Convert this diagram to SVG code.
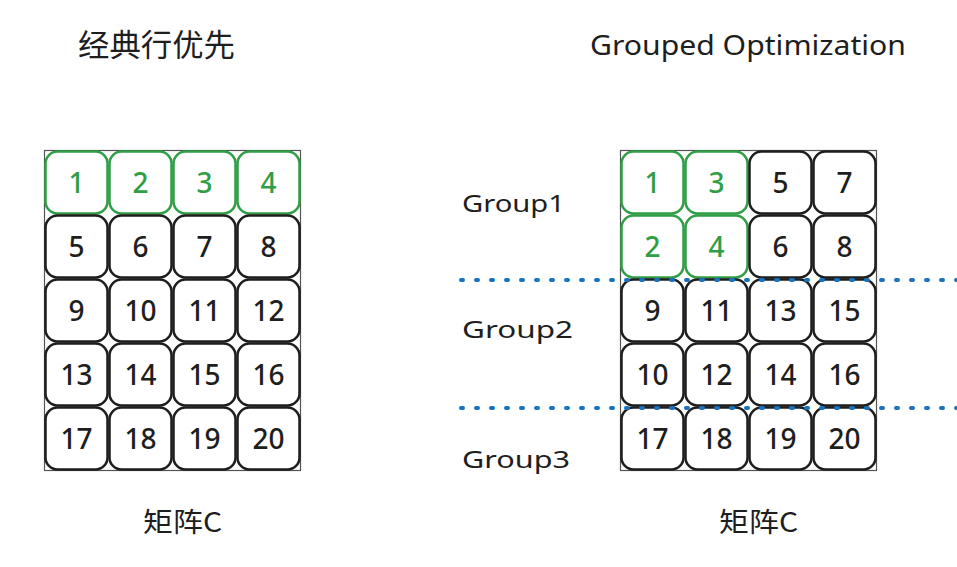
<svg xmlns="http://www.w3.org/2000/svg" width="957" height="567" viewBox="0 0 957 567">
<style>
.frame{fill:none;stroke:#555;stroke-width:1.2}
.cell{fill:#fff;stroke:#1e1e1e;stroke-width:2.5}
.cell.g{stroke:#2f9e44}
.num{font-family:"Noto Sans","DejaVu Sans",sans-serif;font-size:28px;font-weight:500;fill:#1e1e1e;text-anchor:middle}
.num.g{fill:#2f9e44}
.title{font-family:"Noto Sans","Noto Sans CJK SC",sans-serif;font-size:28px;fill:#1e1e1e}
.cjk{font-family:"Noto Sans CJK SC",sans-serif;font-size:31px}
.lbl{font-family:"Noto Sans","DejaVu Sans",sans-serif;font-size:24px;fill:#1e1e1e}
.cap{font-family:"Noto Sans CJK SC","Noto Sans",sans-serif;font-size:27px;fill:#1e1e1e}
.dot{stroke:#1971c2;stroke-width:4;stroke-linecap:round;stroke-dasharray:2 13;fill:none}
</style>
<text class="title cjk" x="78" y="56" textLength="157" lengthAdjust="spacingAndGlyphs">经典行优先</text>
<text class="title" x="590" y="55" textLength="316" lengthAdjust="spacingAndGlyphs">Grouped Optimization</text>

<g id="left-matrix">
<rect class="frame" x="44.5" y="150.5" width="256" height="320"/>
<g id="L1"><rect class="cell g" x="45.5" y="151.5" width="62" height="62" rx="12"/><text class="num g" x="76.5" y="193">1</text></g>
<g id="L2"><rect class="cell g" x="109.5" y="151.5" width="62" height="62" rx="12"/><text class="num g" x="140.5" y="193">2</text></g>
<g id="L3"><rect class="cell g" x="173.5" y="151.5" width="62" height="62" rx="12"/><text class="num g" x="204.5" y="193">3</text></g>
<g id="L4"><rect class="cell g" x="237.5" y="151.5" width="62" height="62" rx="12"/><text class="num g" x="268.5" y="193">4</text></g>
<g id="L5"><rect class="cell" x="45.5" y="215.5" width="62" height="62" rx="12"/><text class="num" x="76.5" y="257">5</text></g>
<g id="L6"><rect class="cell" x="109.5" y="215.5" width="62" height="62" rx="12"/><text class="num" x="140.5" y="257">6</text></g>
<g id="L7"><rect class="cell" x="173.5" y="215.5" width="62" height="62" rx="12"/><text class="num" x="204.5" y="257">7</text></g>
<g id="L8"><rect class="cell" x="237.5" y="215.5" width="62" height="62" rx="12"/><text class="num" x="268.5" y="257">8</text></g>
<g id="L9"><rect class="cell" x="45.5" y="279.5" width="62" height="62" rx="12"/><text class="num" x="76.5" y="321">9</text></g>
<g id="L10"><rect class="cell" x="109.5" y="279.5" width="62" height="62" rx="12"/><text class="num" x="140.5" y="321">10</text></g>
<g id="L11"><rect class="cell" x="173.5" y="279.5" width="62" height="62" rx="12"/><text class="num" x="204.5" y="321">11</text></g>
<g id="L12"><rect class="cell" x="237.5" y="279.5" width="62" height="62" rx="12"/><text class="num" x="268.5" y="321">12</text></g>
<g id="L13"><rect class="cell" x="45.5" y="343.5" width="62" height="62" rx="12"/><text class="num" x="76.5" y="385">13</text></g>
<g id="L14"><rect class="cell" x="109.5" y="343.5" width="62" height="62" rx="12"/><text class="num" x="140.5" y="385">14</text></g>
<g id="L15"><rect class="cell" x="173.5" y="343.5" width="62" height="62" rx="12"/><text class="num" x="204.5" y="385">15</text></g>
<g id="L16"><rect class="cell" x="237.5" y="343.5" width="62" height="62" rx="12"/><text class="num" x="268.5" y="385">16</text></g>
<g id="L17"><rect class="cell" x="45.5" y="407.5" width="62" height="62" rx="12"/><text class="num" x="76.5" y="449">17</text></g>
<g id="L18"><rect class="cell" x="109.5" y="407.5" width="62" height="62" rx="12"/><text class="num" x="140.5" y="449">18</text></g>
<g id="L19"><rect class="cell" x="173.5" y="407.5" width="62" height="62" rx="12"/><text class="num" x="204.5" y="449">19</text></g>
<g id="L20"><rect class="cell" x="237.5" y="407.5" width="62" height="62" rx="12"/><text class="num" x="268.5" y="449">20</text></g>
</g>
<text class="cap" x="143" y="532" textLength="79" lengthAdjust="spacingAndGlyphs">矩阵C</text>

<g id="right-matrix">
<rect class="frame" x="620.5" y="150.5" width="256" height="320"/>
<g id="R1"><rect class="cell g" x="621.5" y="151.5" width="62" height="62" rx="12"/><text class="num g" x="652.5" y="193">1</text></g>
<g id="R3"><rect class="cell g" x="685.5" y="151.5" width="62" height="62" rx="12"/><text class="num g" x="716.5" y="193">3</text></g>
<g id="R5"><rect class="cell" x="749.5" y="151.5" width="62" height="62" rx="12"/><text class="num" x="780.5" y="193">5</text></g>
<g id="R7"><rect class="cell" x="813.5" y="151.5" width="62" height="62" rx="12"/><text class="num" x="844.5" y="193">7</text></g>
<g id="R2"><rect class="cell g" x="621.5" y="215.5" width="62" height="62" rx="12"/><text class="num g" x="652.5" y="257">2</text></g>
<g id="R4"><rect class="cell g" x="685.5" y="215.5" width="62" height="62" rx="12"/><text class="num g" x="716.5" y="257">4</text></g>
<g id="R6"><rect class="cell" x="749.5" y="215.5" width="62" height="62" rx="12"/><text class="num" x="780.5" y="257">6</text></g>
<g id="R8"><rect class="cell" x="813.5" y="215.5" width="62" height="62" rx="12"/><text class="num" x="844.5" y="257">8</text></g>
<g id="R9"><rect class="cell" x="621.5" y="279.5" width="62" height="62" rx="12"/><text class="num" x="652.5" y="321">9</text></g>
<g id="R11"><rect class="cell" x="685.5" y="279.5" width="62" height="62" rx="12"/><text class="num" x="716.5" y="321">11</text></g>
<g id="R13"><rect class="cell" x="749.5" y="279.5" width="62" height="62" rx="12"/><text class="num" x="780.5" y="321">13</text></g>
<g id="R15"><rect class="cell" x="813.5" y="279.5" width="62" height="62" rx="12"/><text class="num" x="844.5" y="321">15</text></g>
<g id="R10"><rect class="cell" x="621.5" y="343.5" width="62" height="62" rx="12"/><text class="num" x="652.5" y="385">10</text></g>
<g id="R12"><rect class="cell" x="685.5" y="343.5" width="62" height="62" rx="12"/><text class="num" x="716.5" y="385">12</text></g>
<g id="R14"><rect class="cell" x="749.5" y="343.5" width="62" height="62" rx="12"/><text class="num" x="780.5" y="385">14</text></g>
<g id="R16"><rect class="cell" x="813.5" y="343.5" width="62" height="62" rx="12"/><text class="num" x="844.5" y="385">16</text></g>
<g id="R17"><rect class="cell" x="621.5" y="407.5" width="62" height="62" rx="12"/><text class="num" x="652.5" y="449">17</text></g>
<g id="R18"><rect class="cell" x="685.5" y="407.5" width="62" height="62" rx="12"/><text class="num" x="716.5" y="449">18</text></g>
<g id="R19"><rect class="cell" x="749.5" y="407.5" width="62" height="62" rx="12"/><text class="num" x="780.5" y="449">19</text></g>
<g id="R20"><rect class="cell" x="813.5" y="407.5" width="62" height="62" rx="12"/><text class="num" x="844.5" y="449">20</text></g>
</g>
<text class="cap" x="719" y="532" textLength="79" lengthAdjust="spacingAndGlyphs">矩阵C</text>

<g id="connectors">
<line class="dot" x1="461" y1="280" x2="957" y2="280"/>
<line class="dot" x1="461" y1="408" x2="957" y2="408"/>
</g>

<g id="labels">
<text class="lbl" x="462" y="212" textLength="103" lengthAdjust="spacingAndGlyphs">Group1</text>
<text class="lbl" x="462" y="338" textLength="111" lengthAdjust="spacingAndGlyphs">Group2</text>
<text class="lbl" x="462" y="468" textLength="108" lengthAdjust="spacingAndGlyphs">Group3</text>
</g>
</svg>
